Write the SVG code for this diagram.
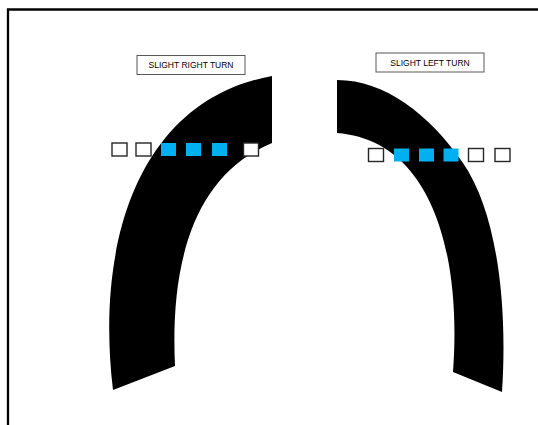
<svg xmlns="http://www.w3.org/2000/svg" width="538" height="425" viewBox="0 0 538 425">
<style>
.lbl{fill:#fff;stroke:#595959;stroke-width:1}
.txt{font-family:"Liberation Sans",Arial,sans-serif;font-size:8.5px;fill:#000;text-anchor:middle}
.road{fill:#000}
.sq{fill:#fff;stroke:#262626;stroke-width:1.4}
.bl{fill:#00b0f0}
</style>
<rect width="538" height="425" fill="#fff"/>
<path d="M8,425 V9.5 H538" fill="none" stroke="#000" stroke-width="2.3"/>
<g id="right-turn">
<path class="road" d="M113,390 C95,240 140,100 272,76 L272,143 C195,175 170,260 175,366 Z"/>
<g id="label-right">
<rect class="lbl" x="137" y="55.5" width="108" height="19"/>
<text class="txt" x="191" y="68">SLIGHT RIGHT TURN</text>
</g>
<g id="squares-right">
<rect class="sq" x="112" y="143" width="15" height="13"/>
<rect class="sq" x="136" y="143" width="15" height="13"/>
<rect class="bl" x="161" y="143" width="15" height="13"/>
<rect class="bl" x="186" y="143" width="15" height="13"/>
<rect class="bl" x="212" y="143" width="15" height="13"/>
<rect class="sq" x="243.5" y="143" width="15" height="13"/>
</g>
</g>
<g id="left-turn">
<path class="road" d="M337,80 C385,80 430,115 463,163 C496,211 508,300 502,392 L453,372 C462,250 430,140 337,133 Z"/>
<g id="label-left">
<rect class="lbl" x="376" y="53" width="108" height="19"/>
<text class="txt" x="430" y="66">SLIGHT LEFT TURN</text>
</g>
<g id="squares-left">
<rect class="sq" x="368.5" y="148.5" width="15" height="13"/>
<rect class="bl" x="394" y="148.5" width="15" height="13"/>
<rect class="bl" x="419" y="148.5" width="15" height="13"/>
<rect class="bl" x="443.5" y="148.5" width="15" height="13"/>
<rect class="sq" x="468.5" y="148.5" width="15" height="13"/>
<rect class="sq" x="495" y="148.5" width="15" height="13"/>
</g>
</g>
</svg>
